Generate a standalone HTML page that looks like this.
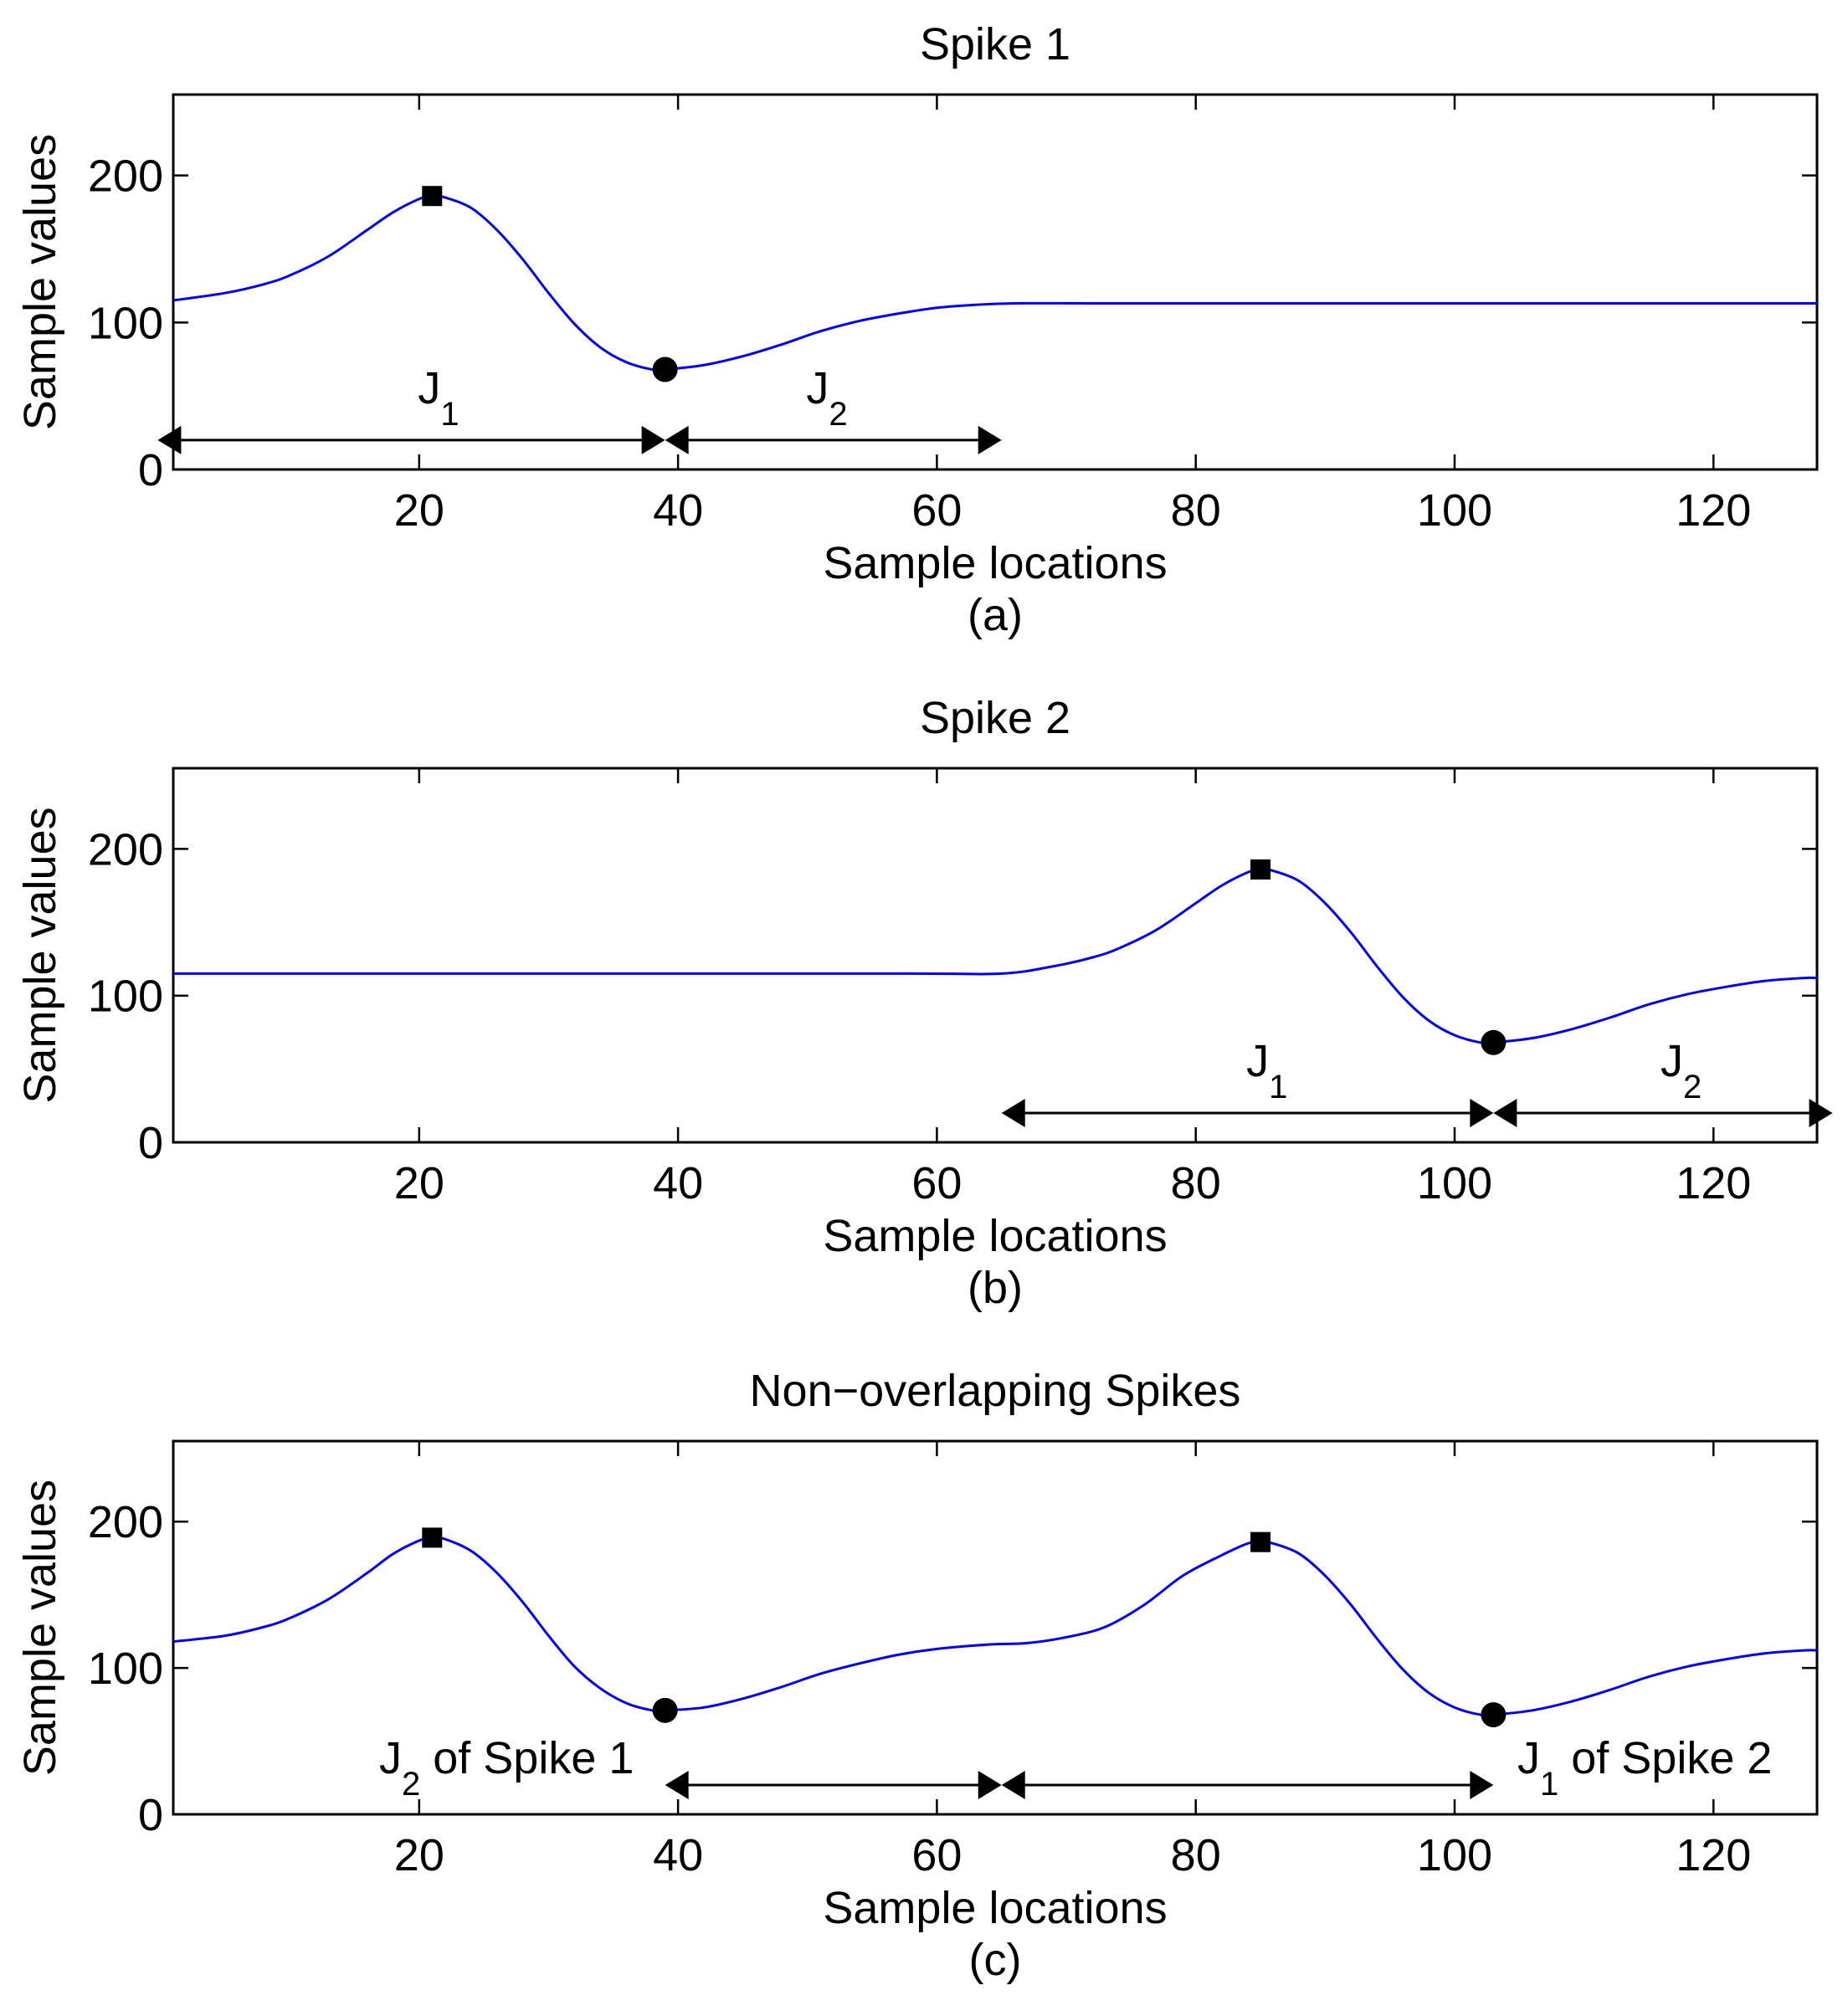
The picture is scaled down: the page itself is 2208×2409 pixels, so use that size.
<!DOCTYPE html>
<html><head><meta charset="utf-8"><style>
html,body{margin:0;padding:0;background:#fff;}
svg{display:block;font-family:"Liberation Sans",Arial,sans-serif;}
</style></head><body>
<svg id="fig" width="2208" height="2409" viewBox="0 0 2208 2409" xmlns="http://www.w3.org/2000/svg"></svg>
<script>
// ---- data ----
const xTicks = [20, 40, 60, 80, 100, 120];
const yTicks = [0, 100, 200];
const xDomain = [1, 128];
const yDomain = [0, 255];
// Spike 1 (panel a) sample knots
const s1X = [1,5,8,10,13,16,18,20,21,22,24,26,28,30,32,34,36,38,39,42,45,48,51,54,57,60,63,66,72,100,128];
const s1Y = [115,120,126,132,145,163,175,184,186,185,178,163,143,120,99,83,73,68,68,71,77,85,94,101,106,110,112,113,113,113,113];
// Spike 2 (panel b)
const s2X = [1,30,58,65,69,72,74,77,80,82,84,85,86,88,90,92,94,96,98,100,102,103,106,109,112,115,118,121,124,127,128];
const s2Y = [115,115,115,115,120,126,132,145,163,175,184,186,185,178,163,143,120,99,83,73,68,68,71,77,85,94,101,106,110,112,112];
// Non-overlapping (panel c)
const s3X = [1,5,8,10,13,16,18,20,21,22,24,26,28,30,32,34,36,38,39,42,45,48,51,54,57,60,64,67,70,73,76,79,82,84,85,86,88,90,92,94,96,98,100,102,103,106,109,112,115,118,121,124,127,128];
const s3Y = [118,122,128,134,147,165,178,187,189,188,180,165,145,122,101,86,76,71,71,73,79,87,96,103,109,113,116,117,121,128,143,163,177,185,186,185,178,163,143,120,99,83,73,68,68,71,77,85,94,101,106,110,112,112];
// markers [x, y]
const peaks = [[[21,186]], [[85,186]], [[21,189],[85,186]]];
const troughs = [[[39,68]], [[103,68]], [[39,71],[103,68]]];
// arrow segments [x0, x1] at y=20
const arrowsA = [[-0.2,39],[39,65]];
const arrowsB = [[65,103],[103,129.2]];
const arrowsC = [[39,65],[65,103]];

// ---- layout ----
const L = 207, R = 2171;
const FS = 54;
const panels = [
  {top:113, bot:561, title:"Spike 1", tag:"(a)", data:[s1X,s1Y], arrows:arrowsA, id:"a"},
  {top:918, bot:1365, title:"Spike 2", tag:"(b)", data:[s2X,s2Y], arrows:arrowsB, id:"b"},
  {top:1722, bot:2168, title:"Non\u2212overlapping Spikes", tag:"(c)", data:[s3X,s3Y], arrows:arrowsC, id:"c"}
];
const svg = document.getElementById('fig');
const NS = "http://www.w3.org/2000/svg";
function mk(tag, attrs, parent){ const e=document.createElementNS(NS,tag); for(const k in attrs) e.setAttribute(k,attrs[k]); (parent||svg).appendChild(e); return e; }
function txt(s, x, y, size, anchor, parent){ const t=mk('text',{x:x,y:y,'font-size':size,'text-anchor':anchor||'middle',fill:'#000'},parent); t.textContent=s; return t; }

panels.forEach((p, pi) => {
  const sx = v => L + (v - xDomain[0]) / (xDomain[1]-xDomain[0]) * (R-L);
  const sy = v => p.bot - (v - yDomain[0]) / (yDomain[1]-yDomain[0]) * (p.bot-p.top);
  const g = mk('g',{});
  
  
  const tt = txt(p.title, (L+R)/2, p.top-42, FS, 'middle', g);
  
  
  xTicks.forEach(v => {
    const x = sx(v);
    const t1 = mk('line',{x1:x,x2:x,y1:p.bot,y2:p.bot-18,stroke:'#000','stroke-width':2.5},g);
    
    
    mk('line',{x1:x,x2:x,y1:p.top,y2:p.top+18,stroke:'#000','stroke-width':2.5},g);
    const l = txt(String(v), x, p.bot+67, FS, 'middle', g);
    
    
  });
  yTicks.forEach(v => {
    const y = sy(v);
    const t1 = mk('line',{x1:L,x2:L+18,y1:y,y2:y,stroke:'#000','stroke-width':2.5},g);
    
    
    mk('line',{x1:R,x2:R-18,y1:y,y2:y,stroke:'#000','stroke-width':2.5},g);
    const l = txt(String(v), L-12, y+19, FS, 'end', g);
    
    
  });
  const box = mk('rect',{x:L,y:p.top,width:R-L,height:p.bot-p.top,fill:'none',stroke:'#000','stroke-width':3},g);
  
  
  const xl = txt('Sample locations', (L+R)/2, p.bot+130, FS, 'middle', g);
  
  
  const tg = txt(p.tag, (L+R)/2, p.bot+192, FS, 'middle', g);
  
  
  const cy = (p.top+p.bot)/2;
  const yl = txt('Sample values', 0, 0, FS, 'middle', g);
  yl.setAttribute('transform','translate(66,'+cy+') rotate(-90)');
  
  
  const xs = p.data[0], ys = p.data[1];
  const pts = xs.map((v,i)=>[sx(v), sy(ys[i])]);
  let d = 'M'+pts[0][0]+','+pts[0][1];
  for (let i=0;i<pts.length-1;i++){
    const p0=pts[Math.max(0,i-1)], p1=pts[i], p2=pts[i+1], p3=pts[Math.min(pts.length-1,i+2)];
    const c1=[p1[0]+(p2[0]-p0[0])/6, p1[1]+(p2[1]-p0[1])/6];
    const c2=[p2[0]-(p3[0]-p1[0])/6, p2[1]-(p3[1]-p1[1])/6];
    d+=' C'+c1[0]+','+c1[1]+' '+c2[0]+','+c2[1]+' '+p2[0]+','+p2[1];
  }
  const line = mk('path',{d:d,fill:'none',stroke:'#0000ff','stroke-width':3},g);
  
  
  peaks[pi].forEach(m => {
    const r = mk('rect',{x:sx(m[0])-12,y:sy(m[1])-12,width:24,height:24,fill:'#000'},g);
    
    
  });
  troughs[pi].forEach(m => {
    const c = mk('circle',{cx:sx(m[0]),cy:sy(m[1]),r:15,fill:'#000'},g);
    
    
  });
  const ay = sy(20);
  p.arrows.forEach(a => {
    const x0 = sx(a[0]), x1 = sx(a[1]);
    const ag = mk('g',{},g);
    
    
    mk('line',{x1:x0+20,x2:x1-20,y1:ay,y2:ay,stroke:'#000','stroke-width':3},ag);
    mk('polygon',{points:(x0)+','+ay+' '+(x0+28)+','+(ay-17)+' '+(x0+28)+','+(ay+17),fill:'#000'},ag);
    mk('polygon',{points:(x1)+','+ay+' '+(x1-28)+','+(ay-17)+' '+(x1-28)+','+(ay+17),fill:'#000'},ag);
  });
  function jlabel(sub, x, y, suffix, anchor){
    const t = mk('text',{x:x,y:y,'font-size':FS,'text-anchor':anchor||'middle',fill:'#000'},g);
    
    
    const a=mk('tspan',{},t); a.textContent='J';
    const b=mk('tspan',{dy:26,'font-size':40},t); b.textContent=sub;
    if (suffix){ const c=mk('tspan',{dy:-26,'font-size':FS},t); c.textContent=suffix; }
  }
  if (p.id==='a'){ jlabel('1', sx(21.5), sy(45), null); jlabel('2', sx(51.5), sy(45), null); }
  if (p.id==='b'){ jlabel('1', sx(85.5), sy(45), null); jlabel('2', sx(117.5), sy(45), null); }
  if (p.id==='c'){ jlabel('2', 453, sy(28), ' of Spike 1', 'start'); jlabel('1', 1813, sy(28), ' of Spike 2', 'start'); }
});
</script>
</body></html>
